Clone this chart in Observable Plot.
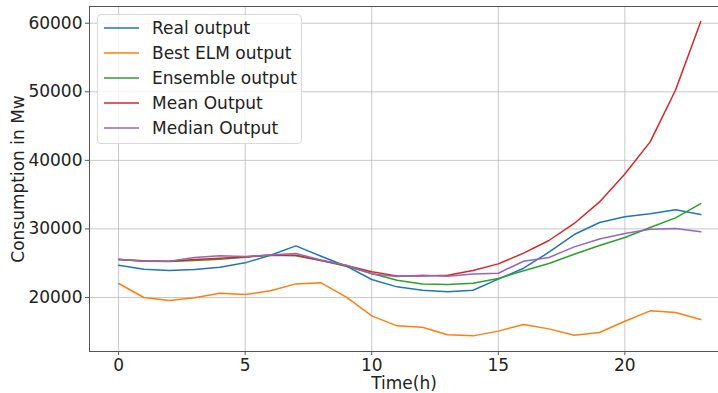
<!DOCTYPE html>
<html>
<head>
<meta charset="utf-8">
<script src="https://cdn.jsdelivr.net/npm/d3@7"></script>
<script src="https://cdn.jsdelivr.net/npm/@observablehq/plot@0.6"></script>
<style>
  html, body { margin: 0; padding: 0; background: #fff; }
  body { width: 718px; height: 393px; overflow: hidden; font-family: "DejaVu Sans", sans-serif; }
  #wrap { position: relative; width: 718px; height: 393px; }
  #legend {
    position: absolute; left: 97px; top: 14px; width: 205px; height: 130px;
    background: rgba(255,255,255,0.8); border: 1px solid #d8d8d8; border-radius: 4px;
    box-sizing: border-box; font-size: 17px; color: #222;
  }
  .row { position: absolute; left: 0; height: 20px; display: flex; align-items: center; white-space: nowrap; }
  .row svg { margin-left: 6px; margin-right: 13px; }
</style>
</head>
<body>
<div id="wrap"><div id="legend"></div></div>
<script>
const hours = [0,1,2,3,4,5,6,7,8,9,10,11,12,13,14,15,16,17,18,19,20,21,22,23];
const realOutput = [24710,24130,23940,24080,24420,25050,26170,27520,26020,24560,22620,21550,21060,20820,21060,22670,24270,26600,29180,30930,31760,32200,32780,32100];
const bestElmOutput = [22040,20000,19560,19950,20630,20440,20970,21980,22130,20040,17320,15860,15670,14550,14400,15090,16060,15420,14500,14900,16540,18050,17810,16790];
const ensembleOutput = [25540,25290,25250,25390,25580,25880,26170,26070,25390,24560,23500,22520,21980,21890,22090,22770,23890,24960,26310,27580,28750,30210,31610,33700];
const meanOutput = [25540,25340,25290,25540,25730,25920,26210,26170,25390,24660,23740,23150,23150,23250,23940,24900,26460,28310,30790,33940,38020,42690,50230,60240];
const medianOutput = [25580,25290,25290,25830,26070,25980,26210,26420,25480,24710,23440,23060,23250,23110,23440,23540,25290,25830,27380,28540,29330,29960,30060,29570];

const seriesNames = ["Real output","Best ELM output","Ensemble output","Mean Output","Median Output"];
const seriesColors = ["#1f77b4","#ff7f0e","#2ca02c","#d62728","#9467bd"];
const seriesValues = [realOutput, bestElmOutput, ensembleOutput, meanOutput, medianOutput];
const xTicks = [0,5,10,15,20];
const yTicks = [20000,30000,40000,50000,60000];
const xDomain = [-1.15, 23.7];
const yDomain = [12120, 62440];

const data = [];
seriesNames.forEach((name, s) => hours.forEach((h, i) => data.push({series: name, hour: h, value: seriesValues[s][i]})));

const axisColor = "#555";
const plot = Plot.plot({
  width: 718,
  height: 393,
  marginLeft: 89,
  marginRight: 0,
  marginTop: 6,
  marginBottom: 42,
  style: {fontFamily: "DejaVu Sans, sans-serif", fontSize: "17px", color: "#222", background: "white"},
  x: {domain: xDomain, label: null},
  y: {domain: yDomain, label: null},
  color: {domain: seriesNames, range: seriesColors},
  marks: [
    Plot.ruleX(xTicks, {stroke: "#b0b0b0", strokeOpacity: 0.7, strokeWidth: 1}),
    Plot.ruleY(yTicks, {stroke: "#b0b0b0", strokeOpacity: 0.7, strokeWidth: 1}),
    Plot.ruleX([xDomain[0]], {stroke: axisColor, strokeWidth: 1}),
    Plot.ruleY(yDomain, {stroke: axisColor, strokeWidth: 1}),
    Plot.axisX({ticks: xTicks, tickSize: 4, tickPadding: 3, fontSize: 17, stroke: axisColor, fill: "#222", label: null}),
    Plot.axisY({ticks: yTicks, tickSize: 4, tickPadding: 3, fontSize: 17, stroke: axisColor, fill: "#222", tickFormat: d => String(d), label: null}),
    Plot.lineY(data, {x: "hour", y: "value", z: "series", stroke: "series", strokeWidth: 1.5}),
    Plot.text(["Time(h)"], {frameAnchor: "bottom", lineAnchor: "middle", textAnchor: "middle", text: d => d, dy: 32, fontSize: 17, fill: "#222"}),
    Plot.text(["Consumption in Mw"], {frameAnchor: "left", lineAnchor: "middle", textAnchor: "middle", text: d => d, dx: -71, rotate: -90, fontSize: 17, fill: "#222"})
  ]
});
document.getElementById("wrap").prepend(plot);

const legend = document.getElementById("legend");
seriesNames.forEach((name, i) => {
  const row = document.createElement("div");
  row.className = "row";
  row.style.top = (3 + i * 25) + "px";
  row.innerHTML = `<svg width="35" height="4"><line x1="0" y1="2" x2="35" y2="2" stroke="${seriesColors[i]}" stroke-width="1.5"/></svg><span>${name}</span>`;
  legend.appendChild(row);
});
</script>
</body>
</html>
